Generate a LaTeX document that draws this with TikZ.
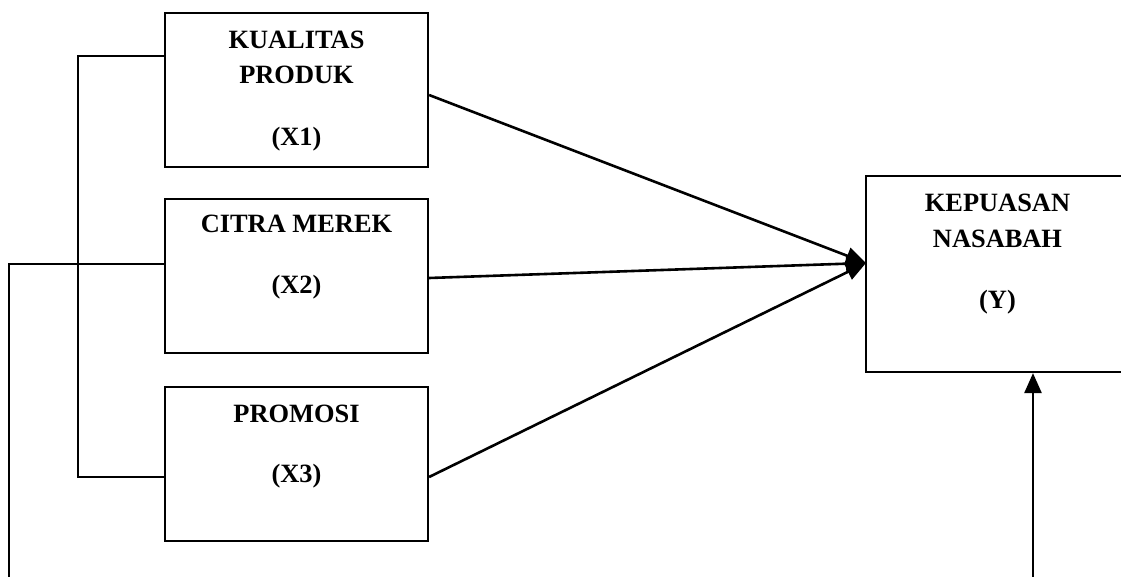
\documentclass[tikz,border=0pt]{standalone}
\usepackage{fontspec}
\setmainfont{Liberation Serif}
\usetikzlibrary{arrows.meta}
\begin{document}
\begin{tikzpicture}[x=0.5pt,y=-0.5pt,
  box/.style={draw,line width=1.1pt,minimum width=131.5pt,inner sep=0pt},
  lbl/.style={font=\fontsize{13.2pt}{15pt}\selectfont\bfseries,anchor=base,inner sep=0pt},
  conn/.style={line width=0.9pt},
  arr/.style={line width=1.3pt,-{Triangle[length=10pt,width=8.5pt]}}]
\useasboundingbox (0,0) rectangle (1121,577);
\clip (0,0) rectangle (1121,577);
% boxes
\node[box,minimum height=77pt] (x1) at (296.5,90) {};
\node[box,minimum height=77pt] (x2) at (296.5,276) {};
\node[box,minimum height=77pt] (x3) at (296.5,464) {};
\node[box,minimum height=98pt] (y) at (997.5,274) {};
% labels
\node[lbl] (t1a) at (296.5,49) {KUALITAS};
\node[lbl] (t1b) at (296.5,84) {PRODUK};
\node[lbl] (t1c) at (296.5,146) {(X1)};
\node[lbl] (t2a) at (296.5,233) {CITRA MEREK};
\node[lbl] (t2b) at (296.5,294) {(X2)};
\node[lbl] (t3a) at (296.5,423) {PROMOSI};
\node[lbl] (t3b) at (296.5,483) {(X3)};
\node[lbl] (tya) at (997.5,212) {KEPUASAN};
\node[lbl] (tyb) at (997.5,248) {NASABAH};
\node[lbl] (tyc) at (997.5,309) {(Y)};
% helper coordinates
\coordinate (b1) at (78,56);
\coordinate (b3) at (78,477);
\coordinate (c2) at (9,264);
\coordinate (c2b) at (9,577);
\coordinate (tip) at (866,263);
\coordinate (bot) at (1033,577);
% bracket X1-X3
\draw[conn] (x1.west |- b1) -- (b1) -- (b3) -- (x3.west |- b3);
% X2 line to bottom
\draw[conn] (x2.west |- c2) -- (c2) -- (c2b);
% arrows to Y
\draw[arr] (x1.east |- 0,95) -- (tip);
\draw[arr] (x2.east |- 0,278) -- (tip);
\draw[arr] (x3.east |- 0,477) -- (tip);
\draw[arr] (bot) -- (bot |- y.south);
\end{tikzpicture}
\end{document}
